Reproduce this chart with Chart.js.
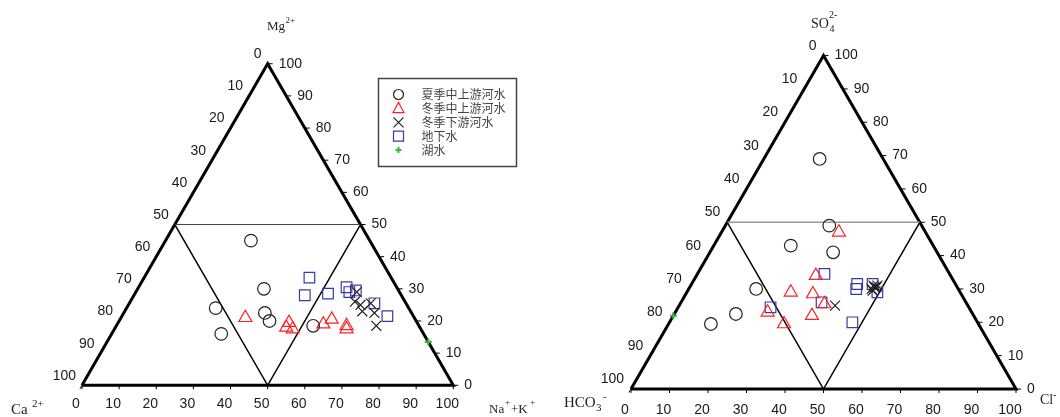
<!DOCTYPE html>
<html lang="zh">
<head>
    <meta charset="UTF-8">
    <title>Piper 三线图</title>
    <script src="https://cdn.jsdelivr.net/npm/chart.js"></script>
    <style>
        body {
            margin: 0;
            background: #fff;
        }

        .wrap {
            position: relative;
            width: 1060px;
            height: 417px;
            overflow: hidden;
        }

        .panel {
            position: absolute;
            top: 0;
            height: 417px;
        }

        #left { left: 0; width: 560px; }
        #right { left: 530px; width: 530px; }
    </style>
</head>
<body>
    <div class="wrap">
        <div class="panel" id="left"><canvas id="cationChart" width="560" height="417"></canvas></div>
        <div class="panel" id="right"><canvas id="anionChart" width="530" height="417"></canvas></div>
    </div>

    <script>
        const tickValues = [0, 10, 20, 30, 40, 50, 60, 70, 80, 90, 100];
        const seriesNames = ['夏季中上游河水', '冬季中上游河水', '冬季下游河水', '地下水', '湖水'];

        // cation triangle: [Na+ + K+ %, Mg2+ %], Ca2+ is the rest
        const summerUpperCat = [[23, 45], [34, 30], [24, 24], [38, 22.5], [40.5, 20], [29.5, 16], [53, 18.5]];
        const winterUpperCat = [[33.5, 21], [46, 19.5], [46, 18], [48, 17.5], [55.5, 19], [57, 20.5], [62, 18.5], [62.5, 17.5]];
        const winterLowerCat = [[59.5, 29], [60.5, 26], [62.5, 25], [64, 23], [65, 25.5], [67.5, 22.5], [70, 18.5]];
        const groundCat = [[44.5, 33.5], [46, 28], [52, 28.5], [56, 30.5], [57.5, 29], [59, 29.5], [66, 25.5], [71.5, 21.5]];
        const lakeCat = [[86.5, 13.5]];

        // anion triangle: [Cl- %, SO4 2- %], HCO3- is the rest
        const summerUpperAn = [[14.5, 69], [27, 49], [20, 43], [32, 41], [17.5, 30], [16, 22.5], [11, 19.5]];
        const winterUpperAn = [[30.5, 47], [31, 34], [27, 29], [33, 28.5], [37.5, 25.5], [24, 23], [36, 22], [30, 19.5]];
        const winterLowerAn = [[40.5, 25], [47.5, 31], [48, 30.5], [48.5, 31], [47.5, 30], [48, 29.5], [48.5, 30.5]];
        const groundAn = [[33, 34.5], [43, 31.5], [43.5, 30], [24, 24.5], [36.5, 26], [47.5, 20], [47, 31.5], [49.5, 29]];
        const lakeAn = [[0, 22]];

        const H = Math.sqrt(3) / 2;
        // ternary [bottom %, top %] -> plane x/y
        function toXY(p) {
            return { x: p[0] + p[1] / 2, y: p[1] * H };
        }

        const styles = [
            { pointStyle: 'circle', color: '#222', radius: 6.3 },
            { pointStyle: 'triangle', color: '#ff2020', radius: 7.5 },
            { pointStyle: 'crossRot', color: '#222', radius: 7 },
            { pointStyle: 'rect', color: '#3a3aad', radius: 7.5 },
            { pointStyle: 'cross', color: '#33bb33', radius: 3.5 }
        ];

        function frameLine(pts, color, width) {
            return {
                data: pts.map(toXY),
                showLine: true,
                borderColor: color,
                borderWidth: width,
                pointRadius: 0,
                fill: false
            };
        }

        function drawSymbol(ctx, st, x, y, r) {
            ctx.save();
            ctx.strokeStyle = st.color;
            ctx.lineWidth = st.pointStyle === 'cross' ? 2 : 1.2;
            ctx.beginPath();
            if (st.pointStyle === 'circle') {
                ctx.arc(x, y, r, 0, Math.PI * 2);
            } else if (st.pointStyle === 'triangle') {
                ctx.moveTo(x, y - r * 1.1);
                ctx.lineTo(x + r, y + r * 0.75);
                ctx.lineTo(x - r, y + r * 0.75);
                ctx.closePath();
            } else if (st.pointStyle === 'crossRot') {
                ctx.moveTo(x - r, y - r); ctx.lineTo(x + r, y + r);
                ctx.moveTo(x + r, y - r); ctx.lineTo(x - r, y + r);
            } else if (st.pointStyle === 'rect') {
                ctx.rect(x - r, y - r, 2 * r, 2 * r);
            } else {
                r = 3;
                ctx.moveTo(x - r, y); ctx.lineTo(x + r, y);
                ctx.moveTo(x, y - r); ctx.lineTo(x, y + r);
            }
            ctx.stroke();
            ctx.restore();
        }

        // ticks, numbers, corner names and the legend
        const ternaryAxes = {
            id: 'ternaryAxes',
            afterDatasetsDraw(chart, args, opts) {
                const { ctx, scales: { x, y } } = chart;
                const px = p => {
                    const q = toXY(p);
                    return [x.getPixelForValue(q.x), y.getPixelForValue(q.y)];
                };
                ctx.save();
                ctx.strokeStyle = '#000';
                ctx.lineWidth = 1;
                ctx.fillStyle = '#1a1a1a';
                ctx.font = '14px "Liberation Sans", Arial, sans-serif';
                ctx.textBaseline = 'middle';
                tickValues.forEach(v => {
                    const [bx, by] = px([v, 0]);
                    ctx.beginPath(); ctx.moveTo(bx, by); ctx.lineTo(bx, by + 4); ctx.stroke();
                    ctx.textAlign = 'center';
                    ctx.fillText(String(v), bx + opts.bottom[0], by + opts.bottom[1]);

                    const [lx, ly] = px([0, 100 - v]);
                    ctx.beginPath(); ctx.moveTo(lx, ly); ctx.lineTo(lx - 2, ly + 3.5); ctx.stroke();
                    ctx.textAlign = 'right';
                    ctx.fillText(String(v), lx + opts.left[0], ly + opts.left[1]);

                    const [rx, ry] = px([100 - v, v]);
                    ctx.beginPath(); ctx.moveTo(rx, ry); ctx.lineTo(rx + 5, ry); ctx.stroke();
                    ctx.textAlign = 'left';
                    ctx.fillText(String(v), rx + opts.right[0], ry + opts.right[1]);
                });

                ctx.textBaseline = 'alphabetic';
                ctx.textAlign = 'left';
                ctx.fillStyle = '#222';
                opts.names.forEach(n => {
                    ctx.font = n.s + 'px "Liberation Serif", "Times New Roman", serif';
                    ctx.fillText(n.t, n.x, n.y);
                });

                if (opts.legend) {
                    const L = opts.legend;
                    ctx.strokeStyle = '#444';
                    ctx.lineWidth = 1.5;
                    ctx.strokeRect(L.x, L.y, L.w, L.h);
                    ctx.font = '12px "Noto Sans CJK SC", sans-serif';
                    ctx.fillStyle = '#444';
                    ctx.textBaseline = 'middle';
                    seriesNames.forEach((name, i) => {
                        const yy = L.y + 16 + i * 13.9;
                        drawSymbol(ctx, styles[i], L.x + 20, yy, i === 1 ? 5.5 : 5);
                        ctx.fillText(name, L.x + 43, yy);
                    });
                }
                ctx.restore();
            }
        };

        function makeChart(id, seriesList, geo, axesOpts, midColor, midWidth) {
            const ppu = geo.side / 100;
            const ds = seriesList.map((pts, i) => ({
                label: seriesNames[i],
                data: pts.map(toXY),
                pointStyle: styles[i].pointStyle,
                pointRadius: styles[i].radius,
                pointHoverRadius: styles[i].radius,
                pointBorderColor: styles[i].color,
                pointBackgroundColor: 'rgba(0,0,0,0)',
                pointBorderWidth: styles[i].pointStyle === 'cross' ? 2 : 1.2
            }));
            ds.push(frameLine([[0, 50], [50, 50]], midColor, midWidth));
            ds.push(frameLine([[0, 50], [50, 0], [50, 50]], '#000', 1.5));
            ds.push(frameLine([[0, 0], [100, 0], [0, 100], [0, 0]], '#000', 3));

            const ctx = document.getElementById(id).getContext('2d');
            return new Chart(ctx, {
                type: 'scatter',
                data: { datasets: ds },
                options: {
                    responsive: false,
                    animation: false,
                    layout: { padding: 0, autoPadding: false },
                    plugins: {
                        legend: { display: false },
                        tooltip: { enabled: false },
                        ternaryAxes: axesOpts
                    },
                    scales: {
                        x: { type: 'linear', display: false, min: -geo.ox / ppu, max: (geo.w - geo.ox) / ppu },
                        y: { type: 'linear', display: false, min: -(geo.h - geo.oy) / ppu, max: geo.oy / ppu }
                    }
                },
                plugins: [ternaryAxes]
            });
        }

        makeChart('cationChart',
            [summerUpperCat, winterUpperCat, winterLowerCat, groundCat, lakeCat],
            { ox: 82, oy: 385.3, side: 371.3, w: 560, h: 417 },
            {
                bottom: [-6, 19], left: [-6, -9.5], right: [11, 0],
                names: [
                    { t: 'Mg', x: 267, y: 30, s: 13 }, { t: '2+', x: 285.5, y: 23, s: 9 },
                    { t: 'Ca', x: 11, y: 414, s: 15 }, { t: '2+', x: 32, y: 407, s: 11 },
                    { t: 'Na', x: 489, y: 413, s: 13 }, { t: '+', x: 505, y: 405, s: 9 },
                    { t: '+K', x: 511, y: 413, s: 13 }, { t: '+', x: 530, y: 405, s: 9 }
                ],
                legend: { x: 378.5, y: 78.5, w: 138, h: 88 }
            },
            '#444', 1);

        makeChart('anionChart',
            [summerUpperAn, winterUpperAn, winterLowerAn, groundAn, lakeAn],
            { ox: 101, oy: 389, side: 385, w: 530, h: 417 },
            {
                bottom: [-6, 21], left: [-7, -9.7], right: [11, 0],
                names: [
                    { t: 'SO', x: 281, y: 28, s: 14 }, { t: '2-', x: 299, y: 18, s: 10 }, { t: '4', x: 299.5, y: 32, s: 10 },
                    { t: 'HCO', x: 34, y: 407, s: 15 }, { t: '3', x: 66, y: 411, s: 11 }, { t: '-', x: 73, y: 400, s: 11 },
                    { t: 'Cl', x: 510, y: 404, s: 14 }, { t: '-', x: 523, y: 398, s: 10 }
                ]
            },
            '#999', 1.5);
    </script>
</body>
</html>
